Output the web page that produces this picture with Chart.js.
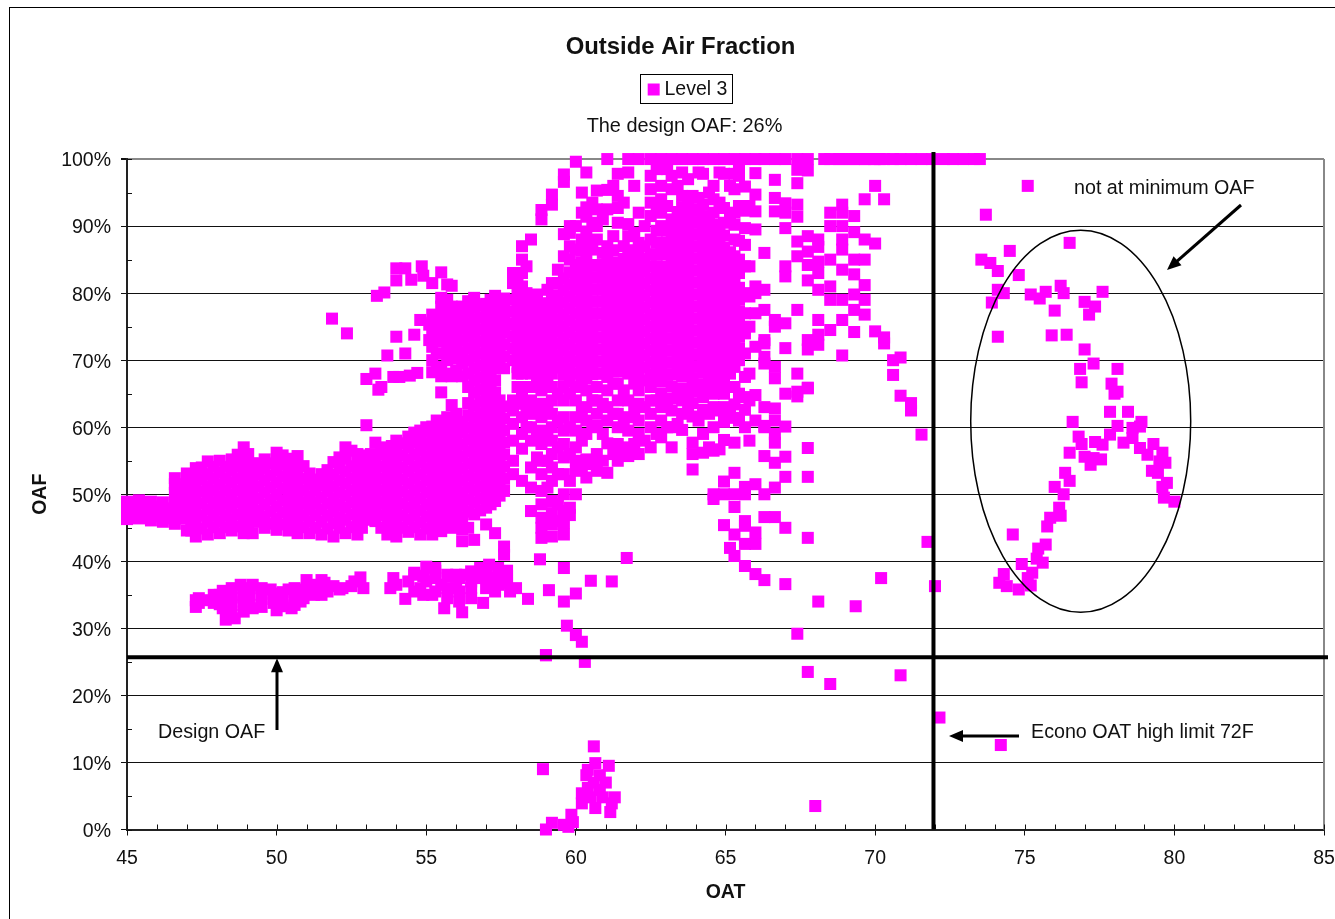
<!DOCTYPE html>
<html><head><meta charset="utf-8">
<style>html,body{margin:0;padding:0;background:#fff}canvas{display:block}</style>
<script src="https://cdn.jsdelivr.net/npm/chart.js@4"></script>
</head><body><canvas id="c" width="1335" height="919"></canvas>
<script>
const seriesName = "Level 3";
const titleText = "Outside Air Fraction";
const subtitleText = "The design OAF: 26%";
const xTitle = "OAT", yTitle = "OAF";
const designOAF = 25.7, econoLimit = 71.95;

// each row: [OAT, [OAF readings at about that OAT]]
const leftBand = [
[45.0,[46.3,47.6,48.9]],[45.4,[46.4,47.8,49.1]],[45.8,[46.1,47.5,48.9]],[46.2,[45.9,47.3,48.8]],
[46.6,[45.6,47,48.6,50.2,51.5,52.4]],[47.0,[44.6,46.4,48.2,49.9,51.6,53.1]],
[47.3,[43.7,45.4,47.2,49,50.7,52.4,53.9]],[47.7,[44,45.9,47.7,49.5,51.2,53,54.9]],
[48.1,[44.2,46,47.8,49.6,51.4,53.2,55]],[48.5,[44.6,46.3,48.1,49.9,51.7,53.5,55.2]],
[48.9,[44.2,46.1,47.9,49.7,51.5,53.3,55.1,57]],[49.2,[44.2,46,47.8,49.6,51.4,53.2,54.6]],
[49.6,[45,46.7,48.5,50.3,52.1,53.9,55.2]],[50,[44.7,46.4,48.2,50,51.8,53.6,55.2,56.2]],
[50.4,[44.6,46.4,48.2,50,51.8,53.6,55.3]],[50.7,[44.2,46.1,47.9,49.7,51.5,53.3,55.7]],
[51.1,[44.2,46,47.8,49.6,51.4,53.1]],[51.5,[44,45.9,47.7,49.5,51.3,53]],
[51.9,[43.7,45.7,47.5,49.3,51.1,52.9,54.8]],[52.3,[44.2,46.2,48,49.8,51.6,53.4,55.3,57]],
[52.7,[44,46,47.8,49.6,51.4,53.2,55,56]],[53.0,[46.2,48,49.8,51.6,53.4,55.1,60.3]],
[53.3,[46,47.8,49.6,51.4,53.2,55,57.7]],[53.7,[44,45.8,47.6,49.4,51.2,53,54.8,56.6]],
[54,[43.7,45.6,47.4,49.2,51,52.8,54.6,56.4,58]],[54.4,[44.4,46.2,48,49.8,51.6,53.4,55.2,57,58.6]],
[54.8,[44,45.8,47.6,49.4,51.2,53,54.8,56.6,58.4,59.5]]
];
const bandStagger = [
[45.2,[47,48.3]],[45.6,[47,48.4]],[46,[46.7,48.2]],[46.4,[46.4,47.9]],
[46.8,[46.4,47.8,49.4,51]],[47.15,[44.6,46.3,48.1,49.9,51.6,53]],[47.5,[44.9,46.8,48.6,50.4,52.2,54]],
[47.9,[45.1,46.9,48.7,50.5,52.3,54.1]],[48.3,[45.1,46.9,48.7,50.5,52.3,54.1]],
[48.7,[45.2,47,48.8,50.6,52.4,54.2,55.9]],[49.05,[45.1,47,48.8,50.6,52.4,54.2,56]],
[49.4,[45.9,47.6,49.4,51.2,53,54.6]],[49.8,[45.6,47.4,49.2,51,52.8,54.6]],
[50.2,[45.5,47.3,49.1,50.9,52.7,54.5,55.8]],[50.55,[45.3,47,48.8,50.6,52.4,54.4]],
[50.9,[45.1,46.9,48.7,50.5,52.3,54.2]],[51.3,[45,46.9,48.7,50.5,52.2]],
[51.7,[44.9,46.8,48.6,50.4,52,53.6]],[52.1,[45,46.6,48.4,50.2,52,53.8,55.5]],
[52.5,[45.1,47,48.8,50.6,52.4,54.2,56.5]],[52.85,[45,47,48.8,50.6,52.4,54.2,55.8]],
[53.15,[47,48.8,50.6,52.4,54.2,56]],[53.5,[45,46.9,48.7,50.5,52.3,54.1,55.9,57]],
[53.85,[44.8,46.6,48.4,50.2,52,53.8,55.6,57.2]],[54.2,[45,46.8,48.6,50.4,52.2,54,55.8,57.6]],
[54.6,[45.1,46.9,48.7,50.5,52.3,54.1,55.9,57.7,59.2]],[55,[44.9,46.7,48.5,50.3,52.1,53.9,55.7,57.5,59.3,60]],
[55.35,[45,46.9,48.7,50.5,52.3,54.1,55.9,57.7,59.5,61,69,71,72.9,74.7,76]],
[55.7,[45.5,47.4,49.2,51,52.8,54.6,56.4,58.2,60,61.5,68,70,71.9,73.7,75.5,77.3,79]],
[56,[45.8,47.6,49.4,51.2,53,54.8,56.6,58.4,60.2,62,68.5,70.3,72.1,73.9,75.7,77.5]],
[56.4,[45,47.4,49.2,51,52.8,54.6,56.4,58.2,60,61.8,63.6,66,68,70,71.8,73.6,75.4,77.2,78.8]],
[56.8,[47.6,49.4,51.2,53,54.8,56.6,58.4,60.2,62,63.8,65.6,67.4,69.2,71,72.8,74.6,76.4,78.2]],
[57.15,[48.5,50.3,52.1,53.9,55.7,57.5,59.3,61.1,62.9,64.7,66.5,68.3,70.1,71.9,73.7,75.5,77.3,79]],
[57.45,[49.8,51.6,53.4,55.2,57,58.8,60.6,62.4,64,69.6,71.4,73.2,75,76.8,78.5]]
];
const midCloud = [
[55.2,[44,45.8,47.6,49.4,51.2,53,54.8,56.6,58.4,60.1,68.2,70,72,73.8,75.6,76.8,81.5]],
[55.5,[44.5,46.3,48.1,49.9,51.7,53.5,55.3,57.1,58.9,60.5,65.2,67.6,69,71,72.8,74.6,76.4,78,79.3,83.1]],
[55.85,[45,46.8,48.6,50.4,52.2,54,55.8,57.6,59.4,61,63.3,67.6,71.3,73,74.8,76.6,78,81.1]],
[56.2,[43,44.8,46.6,48.4,50.2,52,53.8,55.6,57.4,59.2,60.8,67.6,69.5,71.2,73,74.8,76.6,78]],
[56.6,[43.2,47,48.8,50.6,52.4,54.2,56,57.8,59.6,61.4,63.2,65.2,67,68.8,70.6,72.4,74.2,76,77.8,79.3]],
[57.0,[45.5,48,49.8,51.6,53.4,55.2,57,58.8,60.6,62.4,64.2,66,67.8,69.6,71.4,73.2,75,76.8,78.4]],
[57.3,[44.2,49,50.8,52.6,54.4,56.2,58,59.8,61.6,63.4,65.2,67,68.8,70.6,72.4,74.2,76,77.8,79.6]],
[57.6,[42.2,41,50.5,52.3,54.1,55.9,57.7,59.5,61.3,63.1,68.8,70.6,72.4,74.2,76,77.6,79.2]],
[57.9,[53,55,58,60.5,62.5,64,70,71.8,73.6,75.4,77.2,79,81.5,83]],
[58.2,[52,56.8,59,61.5,63.5,65,68,70,71.8,73.6,75.4,77.2,79,81,83,85,87]],
[58.5,[47.5,51,54,58,60,62,64,66,68,70,71.8,73.6,75.4,77.2,79,88]],
[58.85,[43.5,45,46.5,48.5,50.5,53,55,57.5,59.5,61.5,63.5,65.5,67.5,69.5,71.3,73.1,74.9,76.7,78.5,91,92.4]],
[59.2,[43.7,45.5,47.2,49,52,54,56,58,60,62,64,66,68,70,71.8,73.6,75.4,77.2,79,81.5,93.2,94.7]],
[59.6,[44,45.7,47.5,50,53,55.5,57.5,59.5,61.5,64,66,67.8,69.6,71.4,73.2,75,76.8,78.6,80.4,82.2,85.5,88.8,96.6,97.7]],
[60.0,[50,53.5,55,57,59.5,61.5,64,66,68,69.8,71.6,73.4,75.2,77,78.8,80.6,82.4,84.2,86.5,90,99.6]],
[60.35,[52.5,55.2,59,61,63,65.5,67.3,69.1,70.9,72.7,74.5,76.3,78.1,79.9,81.7,83.5,85.3,87.5,89.2,91.4,92.8,98]],
[60.7,[53.5,56,60.2,62,64,66,68,69.8,71.6,73.4,75.2,77,78.8,80.6,82.4,84.2,88,90,92.5,95.3]],
[61.05,[53.2,57.6,61,63,65.5,67.5,69.3,71.1,72.9,74.7,76.5,78.3,80,81.8,83.6,85.4,87,92.5,95.4,100]],
[61.4,[55,57.5,60,62,64,66.5,68.3,70.1,71.9,73.7,75.5,77.3,79.1,80.9,82.7,84.5,90.5,92.7,94.5,97.8]],
[61.75,[55.7,57,59.5,61.5,64,68,69.8,71.6,73.4,75.2,77,78.8,80.6,82.4,84.2,86,88.5,90.3,98,100]],
[62.1,[56,59,61,63.5,65.5,67.3,69.1,70.9,72.7,74.5,76.3,78.1,79.9,81.7,83.5,85.3,87.5,92,100]],
[62.5,[57,60,62,64,66,67.8,69.6,71.4,73.2,75,76.8,78.6,80.4,82.2,84,85.8,88,91.5,93.5,95.5,97.5,100]],
[62.85,[58.5,61,63,65,66.8,68.6,70.4,72.2,74,75.8,77.6,79.4,81.2,83,86,90,92,94,96,100]],
[63.2,[57,60,62.5,64.3,66.1,67.9,69.7,71.5,73.3,75.1,76.9,78.7,80.5,82.3,84.1,85.9,87.7,89.5,91,95.5,97.5,100]],
[63.55,[59.6,62,64,65.8,67.6,69.4,71.2,73,74.8,76.6,78.4,80.2,82,83.8,85.6,87.4,89.2,91,92.8,94.5,98,100]],
[63.9,[53.7,56,57.7,61.6,63.6,65.4,67.2,69,70.8,72.6,74.4,76.2,78,79.8,81.6,83.4,85.2,87,88.8,90.6,92.4,94.5,100]],
[64.25,[56.2,59,62.6,64.5,66.3,68.1,69.9,71.7,73.5,75.3,77.1,78.9,80.7,82.5,84.3,86.1,87.9,89.7,91.5,93.2,97.8,100]],
[64.6,[49.3,50,56.5,60,63,65,66.8,68.6,70.4,72.2,74,75.8,77.6,79.4,81.2,83,84.8,86.6,88.4,90.2,92,94,96,100]],
[64.95,[45.4,51.9,50,58.1,60.8,63,65,67,68.8,70.6,72.4,74.2,76,77.8,79.6,81.4,83.2,85,86.8,88.6,90.5,92.7,97.8,100]],
[65.3,[40.8,44,48.1,50,53.2,57.7,61.4,63.4,66,69,70.8,72.6,74.4,76.2,78,79.8,81.6,83.4,85.5,88,90.2,92,95.5,97.8,100]],
[65.65,[39.3,42.6,45.3,46,51.1,50,60,62.6,64.5,67.5,71,74,77,80,84,87.2,89.7,92.3,95.9,100]],
[66.0,[38.1,42.6,44.3,51.5,61,64.8,72,77,80,81,89.5,92.2,94.7,97.9,100]],
[66.3,[37.2,46.6,50,55.7,60,60.2,63,69.5,70.5,72.5,73,77.5,80.5,86,100]],
[66.65,[46.6,51,54.7,57.7,59,61,62.8,67.3,69,75,76,92.2,94.2,96.9,100]],
[67.0,[45,36.6,52.6,55.6,60.1,65,71.8,75.5,82.5,84,89.7,92,93.4,100]],
[67.4,[29.2,64.6,65.3,68,77.5,85.5,87.7,91.4,93.2,96.4,98.4,100]],
[67.75,[43.5,52.6,56.9,65.8,65.9,71.6,73,81.9,84.2,86.2,88.5,98.3,100]]
];
const cloudStagger = [
[58.05,[66,68,69,70.9,72.7,74.5,76.3,78.1,80,82]],[58.35,[60,62.5,66,69,70.9,72.7,74.5,76.3,78.1,80,84]],
[58.7,[55.5,59,63,67,69,70.9,72.7,74.5,76.3,78.1,79.8]],[59.05,[51,55,59,63,67,69,70.9,72.7,74.5,76.3,78.1,80.5]],
[59.4,[46,48.5,53,57,61,65,68.9,70.7,72.5,74.3,76.1,77.9,79.7,81.5,83.5]],
[59.8,[48,52,56,60,65,66.9,68.7,70.5,72.3,74.1,75.9,77.7,79.5,81.3,83.1,85,87,89,90]],
[60.2,[54,58,62.5,66.5,68.3,70.1,71.9,73.7,75.5,77.3,79.1,80.9,82.7,84.5,86.3,88,92,95]],
[60.55,[54.5,60,64,67.9,69.7,71.5,73.3,75.1,76.9,78.7,80.5,82.3,84.1,86.5,90.5,93.5]],
[60.9,[55,59,63.5,68,69.8,71.6,73.4,75.2,77,78.8,80.6,82.4,84.2,86,91]],
[61.25,[56,62,66.5,68.4,70.2,72,73.8,75.6,77.4,79.2,81,82.8,84.6,86.4,88.5,96]],
[61.6,[56.5,61,65.5,69,70.7,72.5,74.3,76.1,77.9,79.7,81.5,83.3,85.1,87,93.5]],
[61.95,[57.5,62.5,66.5,68.4,70.2,72,73.8,75.6,77.4,79.2,81,82.8,84.6,86.4,89,96]],
[62.3,[58,63,67,68.9,70.7,72.5,74.3,76.1,77.9,79.7,81.5,83.3,85.1,87,90]],
[62.7,[59,64,67.7,69.5,71.3,73.1,74.9,76.7,78.5,80.3,82.1,83.9,85.7,87.5,89.3,93,98.5]],
[63.05,[60,64,67.8,69.6,71.4,73.2,75,76.8,78.6,80.4,82.2,84,85.8,87.6,89.4,93,98.5]],
[63.4,[60.5,65,68.7,70.5,72.3,74.1,75.9,77.7,79.5,81.3,83.1,84.9,86.7,88.5,90.3,92.1,96]],
[63.75,[62.5,64.7,68.3,70.1,71.9,73.7,75.5,77.3,79.1,80.9,82.7,84.5,86.3,88.1,89.9,91.7,93.5,97]],
[64.1,[61,65.4,69,70.8,72.6,74.4,76.2,78,79.8,81.6,83.4,85.2,87,88.8,90.6,92.4,94.2,98]],
[64.45,[57,62,65.9,67.7,69.5,71.3,73.1,74.9,76.7,78.5,80.3,82.1,83.9,85.7,87.5,89.3,91.1,95]],
[64.8,[56.7,62.5,66,67.9,69.7,71.5,73.3,75.1,76.9,78.7,80.5,82.3,84.1,85.9,87.7,89.5,93.5,98]],
[65.15,[42,62,66,68,69.9,71.7,73.5,75.3,77.1,78.9,80.7,82.5,84.3,86.1,91,96]],
[65.45,[61,65,70,71.8,73.6,75.4,77.2,79,80.8,83,85,87.8,93,97.5,99]],
[65.8,[58,64,68,75,79.5,84,93]]
];
const rightCloud = [
[68.1,[34,72.3,73.8,76,80.5,83,86.9,88,84.7]],[68.5,[74.5,79,81,85,100,90,92]],
[68.9,[70.7,76,79,83.5,86.5,88,90,92,93.2,100]],[69.3,[74.2,77.5,79.8,82.8,85,89.1,91.5,100]],
[69.65,[76.8,79,81.2,85,88,94,100]],[70,[74.3,87.4,96,100]],[70.3,[73.4,72.5,94,100]],
[70.6,[67.8,70,100]],[70.85,[70.4,64.7,100]],[71.2,[63.6,62.5,100]],[71.55,[58.9,100]],
[71.9,[100]],[72.3,[100]],[72.6,[100]],[72.95,[100]],[73.3,[100]],[73.5,[100]]
];
const lowBandRows = [
[47.4,[33.8,34.5]],[47.9,[33.8,35]],[48.2,[33,34.2,35.6]],[48.5,[32,33.5,35,36]],[48.9,[32.5,34,35.2]],
[49.1,[33.5,35,36]],[49.5,[33.2,34.4,36]],[49.9,[33.8,35.2]],[50.2,[33.3,34.6,35.4]],[50.6,[33.5,34.8,36]],
[50.9,[34.5,35.8]],[51.25,[35,36.5]],[51.6,[35.6,36.8]],[52.2,[36]],[52.6,[37]],[54,[36.5]],[54.6,[35.5,38]],
[54.9,[35,37.8]],[55.3,[35.5,37.5,39]],[55.7,[34.5,36,38]],[56.1,[34,35.5,37.5]],[56.5,[34.5,37,38.5]],
[57,[36,37.5,38.5]],[57.3,[35.5,37.6]],[57.7,[36.8,38.6]]
];
const topRow = [68.3,68.8,69.2,69.6,69.95,70.15];
const lowBandOat = [47.3,47.3,47.7,48.1,48.1,48.3,48.5,48.6,48.8,48.9,49.2,49.2,49.5,49.8,50,50,50.2,50.4,50.5,50.8,51,51.2,51.5,51.5,51.7,51.9,52.1,52.5,52.8,52.9,53.8,53.9,54.3,54.4,54.6,54.8,55,55,55.2,55.3,55.5,55.6,55.8,56,56,56.2,56.3,56.5,56.7,56.8,56.9,57.1,57.2,57.4,57.4,57.6,57.7,57.8,58,58.4];
const lowBandOaf = [33.2,34.2,34.2,35,33.6,31.3,34.6,31.5,36.5,33.8,36.5,33,35,35.8,35,32.7,34,35.8,33,34,37.2,35.5,37.2,35,35.5,36.3,35.8,36.3,37.6,36,36,37.5,34.4,37,38.3,36,39.2,37,35,38.6,36.5,33,37.7,36,38,32.4,38,36,37.5,39,33.8,39.5,37,39,36.5,38,37.8,35.5,36,34.4];
const scatterOat = [51.85,52.35,53,53.3,53.35,53.4,53.5,53.6,53.7,53.9,54,54,54,54.1,54.3,54.3,54.45,54.5,54.6,54.7,54.8,54.85,54.9,55.1,55.1,55.7,58.8,59.1,59.6,59.6,59,60,60.5,61.2,61.7,59.8,59.7,60,60.2,59,60.3,67.75,68.5,70.85,72.15,74.2,68,71.75,72,70.2,69.35];
const scatterOaf = [76.2,74,67.2,68,79.6,65.6,66,80.1,70.7,67.5,73.5,83.7,81.9,67.5,71,83.7,67.7,82,73.8,68.1,76,84,82.6,75.3,73,81.3,40.3,35.7,39,34,26,35.2,37.1,37,40.5,46.9,30.4,29,28,26,25,23.5,21.7,23,16.7,12.6,3.5,42.9,36.3,37.5,33.3];
const bottomOat = [60.6,58.9,60.65,61.1,60.4,60.35,60.8,60.4,60.8,60.2,60.2,60.65,61.15,61.3,61.2,60.9,60.5,59.85,59.9,59.6,59.2,59,60.6,61,59.75];
const bottomOaf = [12.4,9,9.9,9.5,8.9,8.1,8.1,6.2,5.9,5.4,3.9,3.2,2.6,4.8,3.9,4.8,4.8,2.2,1.1,0.7,1,0,7,7,0.4];
const ellipseOat = [75.1,73.7,74.5,73.55,73.85,74.1,74.8,76.5,74.1,74.3,73.9,75.2,75.5,75.7,76.2,76.3,77.6,76,77,77.35,77.15,74.1,75.9,76.4,77,77.3,76.85,78.1,76.9,77.9,78.1,78,77.85,78.45,76.6,78.9,78.1,78.6,78.85,76.8,76.9,77.35,77.85,77.6,78.3,78.6,78.85,79.3,76.5,77,77.3,77.55,77.2,79.1,79.6,79.7,79.25,79.5,79.45,79.75,79.6,79.65,80,76.35,76.5,76,76.3,76.15,76.2,75.85,75.75,75.7,75.45,75.4,75.6,74.6,74.9,75.25,75.1,75.2,74.3,74.15,74.4,74.8];
const ellipseOaf = [96,91.7,86.3,85,84.5,83.3,82.7,87.5,80.5,80,78.6,79.8,79.2,80.2,81.1,80,80.2,77.4,78.7,78,76.8,73.5,73.7,73.8,71.6,69.5,68.7,68.7,66.7,66.5,65.3,65,62.3,62.3,60.8,60.8,60.2,59.9,60.1,58.6,57.5,57.8,58.9,57.4,57.7,58.4,56.9,57.5,56.2,55.6,55.4,55.2,54.4,55.9,56.2,54.7,53.5,54.9,53.2,51.7,51.1,49.5,48.9,53.2,52,51.1,50,48,46.8,46.5,45.2,42.5,41.9,40.4,39.8,44,39.6,38.3,37.5,36.4,38.1,36.8,36.3,35.8];

const xTicksStep = 5, yTicksStep = 10;

const toPoints = (oat, oaf) => oat.map((x, i) => ({x, y: oaf[i]}));
const fromRows = rows => rows.flatMap(([x, ys]) => ys.map(y => ({x, y})));
const points = [
  ...fromRows(leftBand), ...fromRows(bandStagger), ...fromRows(midCloud), ...fromRows(cloudStagger),
  ...fromRows(rightCloud), ...fromRows(lowBandRows),
  ...topRow.map(x => ({x, y: 100})),
  ...toPoints(lowBandOat, lowBandOaf), ...toPoints(scatterOat, scatterOaf),
  ...toPoints(bottomOat, bottomOaf), ...toPoints(ellipseOat, ellipseOaf)
];

const FONT = "'Liberation Sans', Arial, sans-serif";
const INK = "#111";

const decorations = {
  id: "decorations",
  afterLayout(chart) {
    // the three header blocks sit off the chart's centre in the reference
    const shift = (b, d) => { b.left += d; b.right += d; };
    chart.boxes.forEach(b => {
      if (b === chart.legend) shift(b, 28);
      else if (b.options && b.options.text === titleText) shift(b, 18.5);
      else if (b.options && b.options.text === subtitleText) shift(b, 22.5);
    });
  },
  beforeDraw(chart) {
    const c = chart.ctx;
    c.save();
    c.fillStyle = "#fff"; c.fillRect(0, 0, chart.width, chart.height);
    c.strokeStyle = "#000"; c.lineWidth = 1;
    c.strokeRect(9.5, 7.5, 1500, 1200);
    c.restore();
    // tick labels sit level with their gridlines
    chart.scales.y.getLabelItems(chart.chartArea).forEach(it => {
      if (!it.nudged) { it.options.translation[1] += 2; it.nudged = true; }
    });
  },
  beforeDatasetsDraw(chart) {
    const c = chart.ctx, {x, y} = chart.scales, a = chart.chartArea;
    c.save();
    c.strokeStyle = "#888"; c.lineWidth = 2;
    c.beginPath(); c.moveTo(a.right, a.top); c.lineTo(a.right, a.bottom); c.stroke();
    c.strokeStyle = INK; c.lineWidth = 1;
    c.beginPath();
    for (let v = x.min; v <= x.max; v++) {
      const p = Math.round(x.getPixelForValue(v)) + .5;
      c.moveTo(p, a.bottom); c.lineTo(p, a.bottom - 5);
    }
    for (let v = y.min; v <= y.max; v += 5) {
      const p = Math.round(y.getPixelForValue(v)) + .5;
      c.moveTo(a.left, p); c.lineTo(a.left + 5, p);
    }
    c.stroke();
    c.restore();
  },
  afterDatasetsDraw(chart) {
    const c = chart.ctx, {x, y} = chart.scales, a = chart.chartArea;
    const hy = y.getPixelForValue(designOAF), vx = x.getPixelForValue(econoLimit);
    c.save();
    c.strokeStyle = "#000"; c.lineWidth = 4;
    c.beginPath(); c.moveTo(a.left, hy); c.lineTo(a.right + 4, hy); c.stroke();
    c.beginPath(); c.moveTo(vx, a.top - 7); c.lineTo(vx, a.bottom); c.stroke();
    // ellipse around the points not at minimum OAF
    c.lineWidth = 1.5;
    c.beginPath();
    c.ellipse(x.getPixelForValue(76.87), y.getPixelForValue(60.9), 110, 191, 0, 0, 2 * Math.PI);
    c.stroke();
    const arrow = (x0, y0, x1, y1) => {
      const t = Math.atan2(y1 - y0, x1 - x0), L = 14, W = 6;
      c.lineWidth = 3;
      c.beginPath(); c.moveTo(x0, y0);
      c.lineTo(x1 - L * .8 * Math.cos(t), y1 - L * .8 * Math.sin(t)); c.stroke();
      c.beginPath(); c.moveTo(x1, y1);
      c.lineTo(x1 - L * Math.cos(t) + W * Math.sin(t), y1 - L * Math.sin(t) - W * Math.cos(t));
      c.lineTo(x1 - L * Math.cos(t) - W * Math.sin(t), y1 - L * Math.sin(t) + W * Math.cos(t));
      c.closePath(); c.fillStyle = "#000"; c.fill();
    };
    arrow(1241, 205, 1167, 270);
    arrow(1019, 736, 949, 736);
    arrow(277, 730, 277, hy + 1);
    c.fillStyle = INK;
    c.font = "19.7px " + FONT;
    c.textBaseline = "middle"; c.textAlign = "left";
    c.fillText("not at minimum OAF", 1074, 189);
    c.fillText("Econo OAT high limit 72F", 1031, 733);
    c.fillText("Design OAF", 158, 732.5);
    // legend frame
    c.strokeStyle = "#000"; c.lineWidth = 1;
    c.strokeRect(640.5, 74.5, 92, 29);
    c.restore();
  }
};

new Chart(document.getElementById("c"), {
  type: "scatter",
  data: { datasets: [{
    label: seriesName, data: points,
    pointStyle: "rect", pointRadius: 8.5, pointHoverRadius: 8.5,
    backgroundColor: "#FF00FF", borderColor: "#FF00FF", borderWidth: 0, clip: false
  }]},
  plugins: [decorations],
  options: {
    responsive: false, animation: false, events: [],
    layout: { autoPadding: false, padding: { left: 0, right: 11, top: 0, bottom: 0 } },
    plugins: {
      tooltip: { enabled: false },
      title: { display: true, text: titleText, color: INK, font: { family: FONT, size: 23.9, weight: "bold" },
               padding: { top: 33, bottom: 13 } },
      legend: { display: true, position: "top", weight: 1750,
        labels: { color: INK, font: { family: FONT, size: 19.5 }, usePointStyle: true, boxWidth: 2, boxHeight: 12, padding: 5 } },
      subtitle: { display: true, text: subtitleText, color: INK, font: { family: FONT, size: 19.9 },
               padding: { top: 5.75, bottom: 20.25 } }
    },
    scales: {
      x: { type: "linear", min: 45, max: 85,
        afterFit: s => { s.height = 89.5; s.paddingLeft = 0; s.paddingRight = 0; },
        ticks: { stepSize: xTicksStep, color: INK, font: { family: FONT, size: 19.5 }, padding: 11, maxRotation: 0 },
        grid: { drawOnChartArea: false, tickLength: 6, tickColor: INK },
        border: { color: "#222", width: 2 },
        title: { display: true, text: xTitle, color: INK, font: { family: FONT, size: 19.5, weight: "bold" }, padding: { top: 0, bottom: 15 } } },
      y: { type: "linear", min: 0, max: 100,
        afterFit: s => { s.width = 127; s.paddingTop = 0; s.paddingBottom = 0; },
        ticks: { stepSize: yTicksStep, color: INK, font: { family: FONT, size: 19.5 }, padding: 10, callback: v => v + "%" },
        grid: { tickLength: 6, tickColor: INK, color: c => c.tick && c.tick.value === 100 ? "#888" : "#111",
                lineWidth: c => c.tick && c.tick.value === 100 ? 2 : 1 },
        border: { color: "#222", width: 2 },
        title: { display: true, text: yTitle, color: INK, font: { family: FONT, size: 19.5, weight: "bold" }, padding: { top: 29, bottom: 0 } } }
    }
  }
});
</script></body></html>
